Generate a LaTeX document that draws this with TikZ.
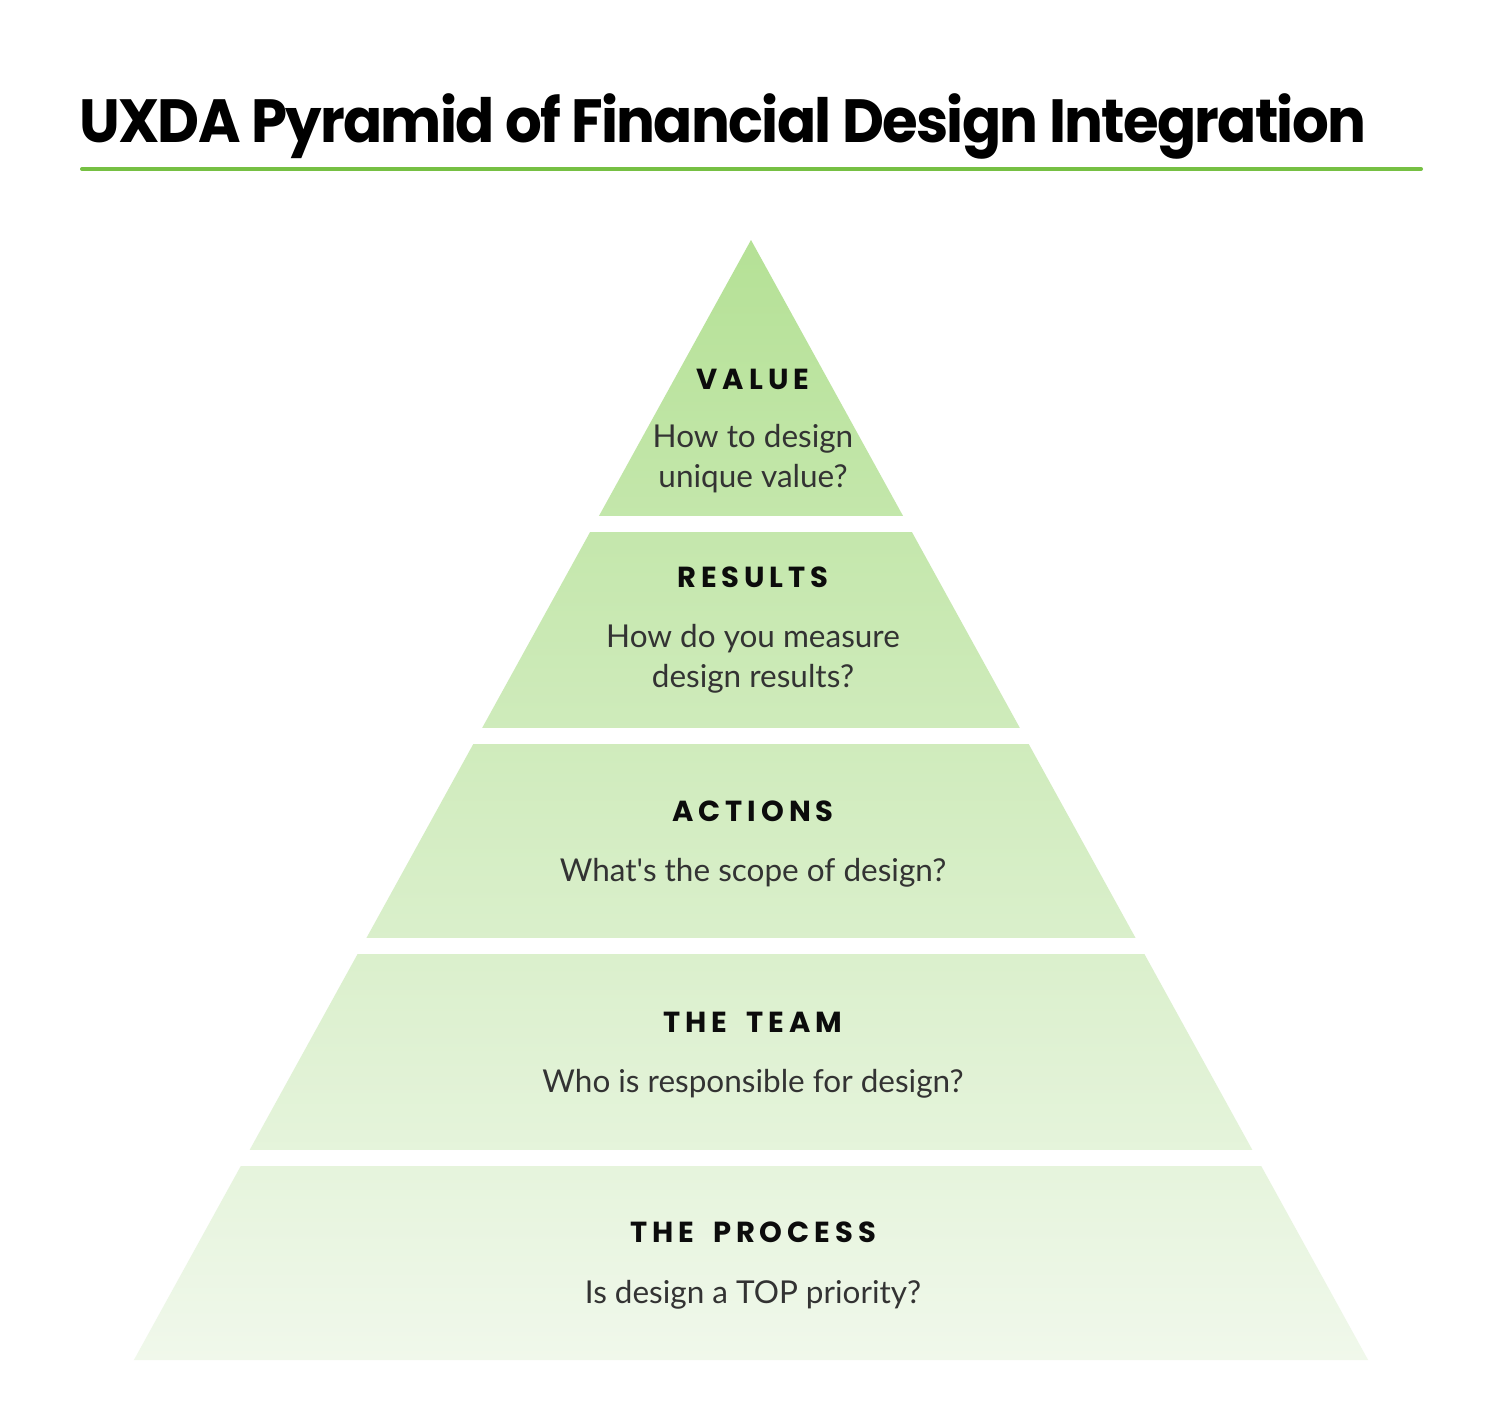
\documentclass[tikz,border=0pt]{standalone}
\usepackage{fontspec}
\setmainfont{Lato}
\newfontfamily\titlefont{Poppins}[LetterSpace=-3]
\newfontfamily\headfont{Poppins}[LetterSpace=17]
\definecolor{rulegreen}{RGB}{118,192,67}
\definecolor{pyrtop}{RGB}{181,225,150}
\definecolor{pyrbot}{RGB}{240,248,235}
\definecolor{bodygray}{RGB}{51,51,51}
\definecolor{headblack}{RGB}{12,12,12}
\newcommand{\hsp}{\hspace{8pt}}
\tikzset{
  titletext/.style={anchor=base west, inner sep=0pt, font=\titlefont\bfseries\fontsize{61}{70}\selectfont, text=black},
  layerhead/.style={anchor=base, inner sep=0pt, font=\headfont\bfseries\fontsize{29}{34}\selectfont, text=headblack},
  layerbody/.style={anchor=base, inner sep=0pt, font=\fontsize{31.5}{36}\selectfont, text=bodygray},
  gapstrip/.style={fill=white, draw=none}
}
\begin{document}
\begin{tikzpicture}[x=1pt,y=-1pt]
  \fill[white] (0,0) rectangle (1504,1400);
  \useasboundingbox (0,0) rectangle (1504,1400);
  % title
  \node[titletext] (title) at (79,142) {\scalebox{0.947}[1]{UXDA Pyramid of Financial Design Integration}};
  \draw[rulegreen, line width=4pt, line cap=round] (82,169) -- (1421,169);
  % pyramid
  \begin{scope}
    \clip (751,240) -- (133.9,1360) -- (1368.1,1360) -- cycle;
    \shade[top color=pyrtop, bottom color=pyrbot] (120,240) rectangle (1390,1360);
  \end{scope}
  \fill[gapstrip] (100,516) rectangle (1400,532);
  \fill[gapstrip] (100,728) rectangle (1400,744);
  \fill[gapstrip] (100,938) rectangle (1400,954);
  \fill[gapstrip] (100,1150) rectangle (1400,1166);
  % labels
  \node[layerhead] (h1) at (753,389) {VALUE};
  \node[layerbody] (b1a) at (753,447) {How to design};
  \node[layerbody] (b1b) at (753,487) {unique value?};
  \node[layerhead] (h2) at (753,587) {RESULTS};
  \node[layerbody] (b2a) at (753,647) {How do you measure};
  \node[layerbody] (b2b) at (753,687) {design results?};
  \node[layerhead] (h3) at (753,821) {ACTIONS};
  \node[layerbody] (b3) at (753,881) {What\textquotesingle s the scope of design?};
  \node[layerhead] (h4) at (753,1032) {THE\hsp{} TEAM};
  \node[layerbody] (b4) at (753,1092) {Who is responsible for design?};
  \node[layerhead] (h5) at (753,1242) {THE\hsp{} PROCESS};
  \node[layerbody] (b5) at (753,1303) {Is design a TOP priority?};
\end{tikzpicture}
\end{document}
